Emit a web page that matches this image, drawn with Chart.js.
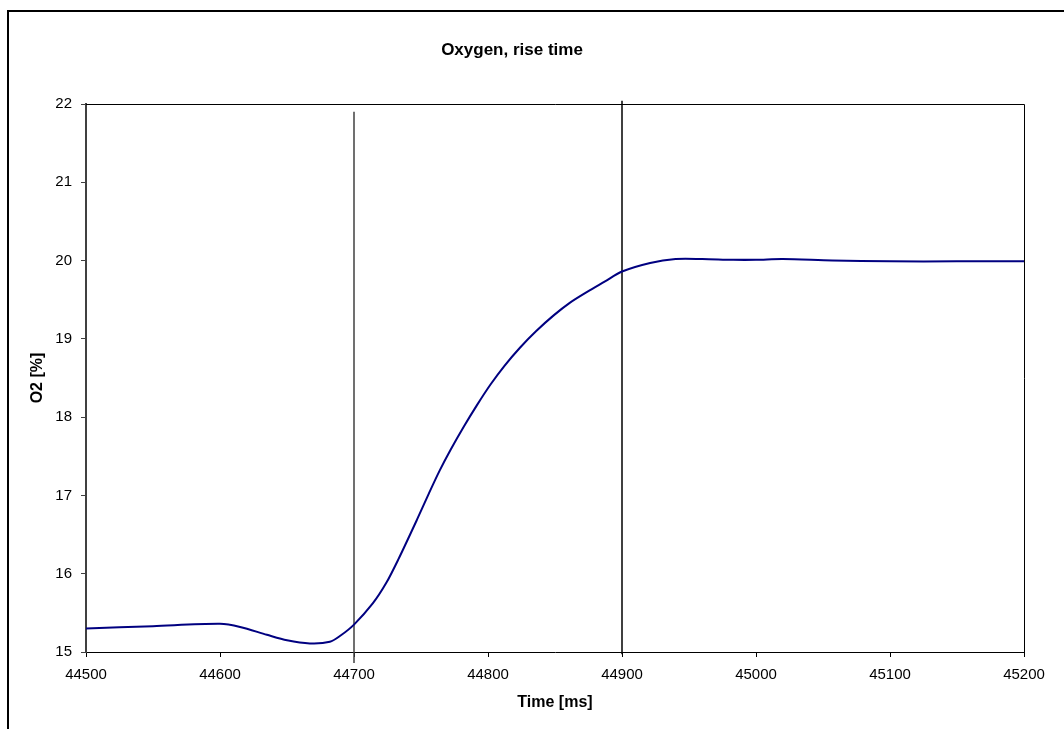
<!DOCTYPE html>
<html>
<head>
<meta charset="utf-8">
<title>Oxygen, rise time</title>
<script src="https://cdn.jsdelivr.net/npm/chart.js@4/dist/chart.umd.min.js"></script>
<style>
  html, body { margin:0; padding:0; background:#fff; overflow:hidden; }
  #wrap { position:relative; width:1064px; height:729px; overflow:hidden; }
  #frame { position:absolute; left:7px; top:10px; width:2000px; height:2000px; border:2px solid #000; pointer-events:none; }
  canvas { position:absolute; left:0; top:0; }
</style>
</head>
<body>
<div id="wrap">
  <canvas id="o2Chart" width="1064" height="729"></canvas>
  <div id="frame"></div>
</div>
<script>
// O2 rise time data
const timeMs = [44500, 44550, 44600, 44615, 44635, 44650, 44667, 44682, 44690, 44700,
  44714, 44724, 44733, 44747, 44756, 44764, 44772, 44782, 44792, 44802,
  44812, 44824, 44836, 44849, 44861, 44874, 44887, 44900, 44921, 44940,
  44960, 44983, 45000, 45020, 45057, 45100, 45150, 45200];
const o2Pct = [15.30, 15.33, 15.36, 15.32, 15.22, 15.15, 15.11, 15.13, 15.21, 15.35,
  15.62, 15.88, 16.18, 16.69, 17.03, 17.32, 17.58, 17.88, 18.16, 18.42,
  18.65, 18.89, 19.10, 19.30, 19.46, 19.60, 19.73, 19.86, 19.97, 20.02,
  20.02, 20.01, 20.01, 20.02, 20.00, 19.99, 19.99, 19.99];

// marker lines for start / end of rise
const startMarker = [{x:44700, y:14.86}, {x:44700, y:21.9}];
const endMarker = [{x:44900, y:14.97}, {x:44900, y:22.04}];

const xTicks = [44500, 44600, 44700, 44800, 44900, 45000, 45100, 45200];
const yTicks = [15, 16, 17, 18, 19, 20, 21, 22];

const family = '"Liberation Sans", Arial, sans-serif';
const tickFont = {family, size:15};
const axisTitleFont = {family, size:16, weight:'bold'};

// plot box around the chart area
const plotBox = {
  id:'plotBox',
  afterDraw(chart) {
    const {ctx, chartArea:a} = chart;
    ctx.save();
    ctx.strokeStyle = '#000';
    ctx.lineWidth = 1;
    ctx.beginPath();
    ctx.moveTo(a.left, a.top + 0.5);
    ctx.lineTo(a.right + 0.5, a.top + 0.5);
    ctx.lineTo(a.right + 0.5, a.bottom);
    ctx.stroke();
    ctx.restore();
  }
};

new Chart(document.getElementById('o2Chart'), {
  type:'line',
  data:{
    datasets:[
      {data:timeMs.map((t,i) => ({x:t, y:o2Pct[i]})), borderColor:'#000080', borderWidth:2,
        pointRadius:0, tension:0.3},
      {data:startMarker, borderColor:'#404040', borderWidth:1.5, pointRadius:0, clip:false},
      {data:endMarker, borderColor:'#000', borderWidth:1.5, pointRadius:0, clip:false}
    ]
  },
  options:{
    responsive:false,
    animation:false,
    layout:{padding:{left:0, right:40, top:0, bottom:0}},
    plugins:{
      legend:{display:false},
      tooltip:{enabled:false},
      title:{display:true, text:'Oxygen, rise time', color:'#000',
        font:{family, size:17, weight:'bold'}, padding:{top:40, bottom:43.6}}
    },
    scales:{
      x:{
        type:'linear', min:44500, max:45200,
        afterBuildTicks: s => { s.ticks = xTicks.map(v => ({value:v})); },
        afterFit: s => { s.height = 77; },
        ticks:{color:'#000', font:tickFont, padding:9, maxRotation:0, callback:v => String(v)},
        grid:{drawOnChartArea:false, tickLength:5, color:'#000'},
        border:{color:'#000', width:1},
        title:{display:true, text:'Time [ms]', color:'#000', font:axisTitleFont,
          padding:{top:17, bottom:17}}
      },
      y:{
        min:15, max:22,
        afterBuildTicks: s => { s.ticks = yTicks.map(v => ({value:v})); },
        afterFit: s => { s.width = 86; },
        ticks:{color:'#000', font:tickFont, padding:9, callback:v => String(v)},
        grid:{drawOnChartArea:false, tickLength:5, color:'#404040'},
        border:{color:'#404040', width:2},
        title:{display:true, text:'O2 [%]', color:'#000', font:axisTitleFont,
          padding:{top:28, bottom:28}}
      }
    }
  },
  plugins:[plotBox]
});
</script>
</body>
</html>
